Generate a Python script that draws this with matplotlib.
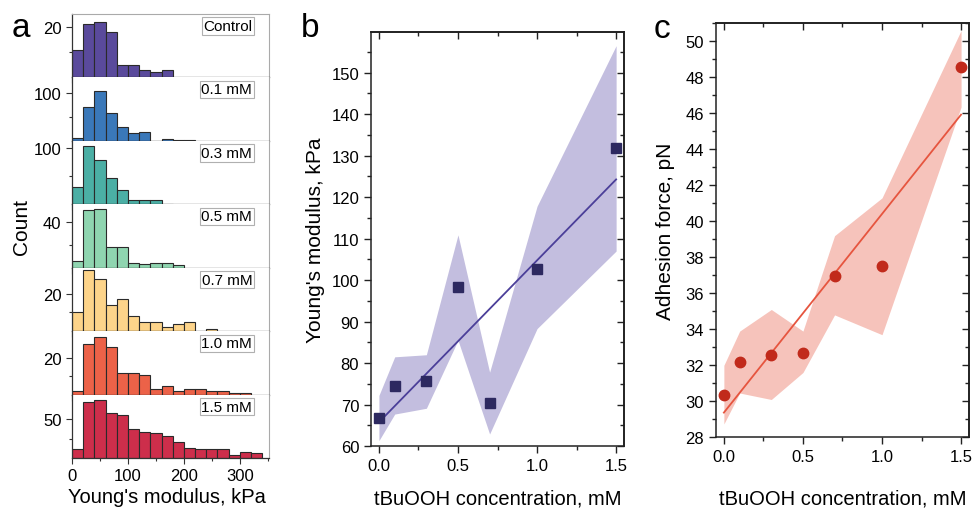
import numpy as np
import matplotlib
matplotlib.use('Agg')
import matplotlib.pyplot as plt
from matplotlib.ticker import MultipleLocator, FixedLocator

plt.rcParams['font.family'] = ['Liberation Sans', 'DejaVu Sans']

# histogram data (counts per 20 kPa bin, starting at 0)
bin_width = 20
labels = ['Control', '0.1 mM', '0.3 mM', '0.5 mM', '0.7 mM', '1.0 mM', '1.5 mM']
counts = [
    [11, 21, 22, 18, 5, 5, 3, 2, 3],
    [7, 71, 104, 58, 28, 16, 19, 0, 4, 2, 2],
    [30, 103, 78, 47, 26, 8, 7, 8, 1],
    [6, 51, 52, 18, 18, 4, 3, 4, 4, 2],
    [10, 33, 28, 14, 17, 8, 5, 5, 2, 4, 5, 0, 1],
    [2, 28, 32, 26, 12, 12, 11, 3, 5, 2, 3, 3, 2, 2, 1, 1],
    [12, 73, 75, 58, 56, 38, 34, 32, 29, 21, 13, 12, 12, 12, 4, 8, 7],
]
hist_colors = ['#5a4a9c', '#3a78b9', '#4bafa5', '#8fd5b0', '#fdd48a', '#ec6248', '#cd2e4b']
y_max = [25, 133, 112, 56, 34, 35, 82]
y_tick = [20, 100, 100, 40, 20, 20, 50]

# panel b / c data
conc = [0.0, 0.1, 0.3, 0.5, 0.7, 1.0, 1.5]
young = [66.7, 74.5, 75.6, 98.4, 70.3, 102.7, 131.9]
young_lo = [61.3, 67.7, 69.1, 85.5, 62.9, 88.3, 107.0]
young_hi = [72.2, 81.5, 82.0, 110.9, 77.8, 117.8, 156.5]
adh = [30.37, 32.17, 32.58, 32.71, 36.95, 37.51, 48.56]
adh_lo = [28.74, 30.46, 30.1, 31.6, 34.8, 33.7, 46.35]
adh_hi = [32.0, 33.9, 35.1, 33.9, 39.2, 41.3, 50.6]

fig = plt.figure(figsize=(9.72, 5.10), dpi=100)

# ---- panel a ----
gs = fig.add_gridspec(7, 1, left=0.0741, right=0.2767, top=0.9706, bottom=0.1, hspace=0)
for i in range(7):
    ax = fig.add_subplot(gs[i])
    c = counts[i]
    edges = np.arange(len(c)) * bin_width
    ax.bar(edges, c, width=bin_width, align='edge', color=hist_colors[i],
           edgecolor='#2a2a2a', linewidth=0.8)
    ax.set_xlim(0, 352)
    ax.set_ylim(0, y_max[i])
    ax.yaxis.set_major_locator(FixedLocator([y_tick[i]]))
    ax.yaxis.set_minor_locator(FixedLocator([y_tick[i] / 2]))
    ax.xaxis.set_major_locator(MultipleLocator(100))
    ax.xaxis.set_minor_locator(MultipleLocator(50))
    ax.tick_params(which='both', direction='out', labelsize=12, color='#333333')
    ax.tick_params(which='major', length=4, width=0.8)
    ax.tick_params(which='minor', length=2.5, width=0.8)
    if i < 6:
        ax.tick_params(axis='x', labelbottom=False)
    for s in ['left', 'bottom']:
        ax.spines[s].set_color('#333333')
        ax.spines[s].set_linewidth(0.9)
    ax.spines['right'].set_color('#aaaaaa')
    ax.spines['right'].set_linewidth(0.8)
    if i == 0:
        ax.spines['top'].set_color('#aaaaaa')
        ax.spines['top'].set_linewidth(0.8)
    else:
        ax.spines['top'].set_visible(False)
    ax.text(0.915, 0.92, labels[i], transform=ax.transAxes, ha='right', va='top',
            fontsize=11, bbox=dict(facecolor='white', edgecolor='#b0b0b0',
                                   linewidth=0.8, pad=1.2))

fig.text(0.172, 0.013, "Young's modulus, kPa", ha='center', va='baseline', fontsize=14.5)
fig.text(0.022, 0.555, 'Count', ha='center', va='center', rotation=90, fontsize=15)
fig.text(0.012, 0.928, 'a', fontsize=24, ha='left', va='baseline')


def style_axes(ax, xmaj, xmin, ymaj, ymin):
    ax.xaxis.set_major_locator(MultipleLocator(xmaj))
    ax.xaxis.set_minor_locator(MultipleLocator(xmin))
    ax.yaxis.set_major_locator(MultipleLocator(ymaj))
    ax.yaxis.set_minor_locator(MultipleLocator(ymin))
    ax.tick_params(which='both', direction='out', labelsize=12, color='#222222', width=1)
    ax.tick_params(which='major', length=5)
    ax.tick_params(which='minor', length=3)
    ax.xaxis.set_major_formatter(matplotlib.ticker.FormatStrFormatter('%.1f'))
    for s in ax.spines.values():
        s.set_linewidth(1.1)
        s.set_color('#222222')
    top = ax.secondary_xaxis('top')
    top.xaxis.set_major_locator(MultipleLocator(xmaj))
    top.xaxis.set_minor_locator(MultipleLocator(xmin))
    top.tick_params(which='both', direction='in', labeltop=False, color='#222222', width=1)
    top.tick_params(which='major', length=5)
    top.tick_params(which='minor', length=3)
    top.spines['top'].set_linewidth(1.1)
    right = ax.secondary_yaxis('right')
    right.yaxis.set_major_locator(MultipleLocator(ymaj))
    right.yaxis.set_minor_locator(MultipleLocator(ymin))
    right.tick_params(which='both', direction='in', labelright=False, color='#222222', width=1)
    right.tick_params(which='major', length=5)
    right.tick_params(which='minor', length=3)
    right.spines['right'].set_linewidth(1.1)


xfit = np.array([0.0, 1.5])

# ---- panel b ----
axb = fig.add_axes([0.3817, 0.1235, 0.2603, 0.8118])
axb.fill_between(conc, young_lo, young_hi, color='#c3bedf', linewidth=0)
pb = np.polyfit(conc, young, 1)
axb.plot(xfit, np.polyval(pb, xfit), color='#4b3f99', linewidth=1.3)
axb.plot(conc, young, 's', color='#2d2960', markersize=6.5)
axb.set_xlim(-0.05, 1.55)
axb.set_ylim(60, 159.8)
style_axes(axb, 0.5, 0.25, 10, 5)
axb.set_xlabel('tBuOOH concentration, mM', fontsize=14.5, va='baseline')
axb.xaxis.set_label_coords(0.5, -0.138)
axb.set_ylabel("Young's modulus, kPa", fontsize=15)
axb.yaxis.set_label_coords(-0.18, 0.5)
fig.text(0.309, 0.928, 'b', fontsize=24, ha='left', va='baseline')

# ---- panel c ----
axc = fig.add_axes([0.7366, 0.1406, 0.2603, 0.8118])
axc.fill_between(conc, adh_lo, adh_hi, color='#f6c3bb', linewidth=0)
pc = np.polyfit(conc, adh, 1)
axc.plot(xfit, np.polyval(pc, xfit), color='#e6553f', linewidth=1.3)
axc.plot(conc, adh, 'o', color='#c12a1b', markersize=7.5)
axc.set_xlim(-0.05, 1.55)
axc.set_ylim(28, 51)
style_axes(axc, 0.5, 0.25, 2, 1)
axc.set_xlabel('tBuOOH concentration, mM', fontsize=14.5, va='baseline')
axc.xaxis.set_label_coords(0.5, -0.159)
axc.set_ylabel('Adhesion force, pN', fontsize=15)
axc.yaxis.set_label_coords(-0.162, 0.5)
fig.text(0.672, 0.926, 'c', fontsize=24, ha='left', va='baseline')

fig.savefig('out.png', dpi=100)
